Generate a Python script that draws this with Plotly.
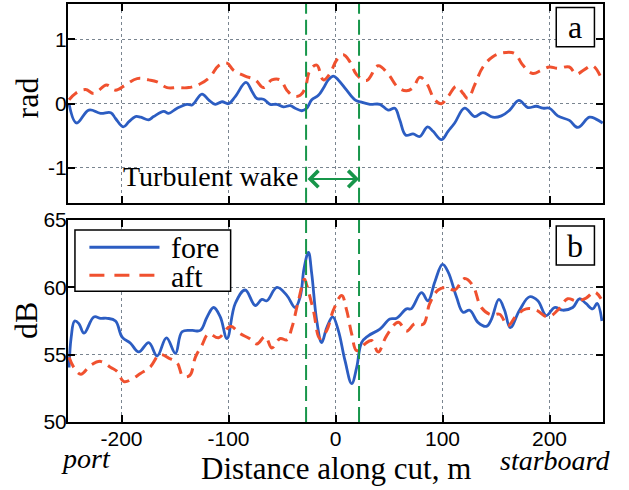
import plotly.graph_objects as go

# ---------------- data ----------------
fore_phase_x = [-249, -242, -230.5, -219.6, -210, -205.6, -198.4, -193, -187, -182, -174.5, -170, -160.5, -156,
                -148, -138.7, -134, -124.8, -118.6, -112.4, -106, -100, -93.7, -83.7, -78, -73.5, -67.3, -61, -55,
                -48.7, -42.4, -37.7, -31.5, -26.9, -22.2, -16, -11.4, -6.7, -2, 2.6, 10.4, 18.2, 22.8, 32.2, 41.5,
                49.2, 55.5, 60, 65.7, 72.5, 78.8, 86, 91.2, 99, 105.2, 111.4, 120.7, 130, 137.8, 147, 155, 162.8,
                171.4, 179.8, 187.6, 193.8, 200, 207.7, 218.6, 226.4, 237.3, 243.5, 249.7]
fore_phase_y = [0.0, -0.30, -0.10, -0.15, -0.14, -0.23, -0.36, -0.28, -0.20, -0.21, -0.25, -0.20, -0.12, -0.15,
                -0.07, -0.01, -0.02, 0.15, 0.06, -0.01, 0.03, 0.0, 0.11, 0.33, 0.19, 0.08, 0.07, -0.01, -0.01,
                -0.05, -0.03, -0.07, -0.11, -0.07, 0.06, 0.13, 0.24, 0.37, 0.43, 0.37, 0.21, 0.06, 0.03, -0.01, -0.01,
                -0.10, -0.07, -0.25, -0.49, -0.47, -0.51, -0.36, -0.43, -0.56, -0.43, -0.30, -0.07, -0.20, -0.14,
                -0.21, -0.19, -0.10, 0.05, -0.06, -0.04, -0.07, -0.07, -0.19, -0.26, -0.37, -0.21, -0.24, -0.30]

aft_phase_x = [-249, -243, -233.6, -225.8, -214, -205.6, -196.3, -185.4, -174.5, -166.7, -157.4, -148, -137.2,
               -126.3, -117, -109.3, -101.4, -95.3, -84.4, -75, -67.3, -59.5, -51.7, -45.5, -39.3, -33, -28.4,
               -23.8, -17.5, -11.4, -5.1, 1.1, 7.3, 13.5, 19.8, 29.1, 39.9, 49.2, 58.6, 66.4, 72.5, 78.8, 85, 92.8,
               99, 105.2, 113, 119.2, 123.8, 130, 137.8, 147, 156.4, 167.4, 175, 184.4, 192.3, 200, 207.7, 218.6,
               224.9, 232.6, 240.2, 248]
aft_phase_y = [0.06, 0.16, 0.22, 0.16, 0.29, 0.21, 0.29, 0.39, 0.37, 0.34, 0.25, 0.25, 0.25,
               0.31, 0.42, 0.59, 0.63, 0.52, 0.43, 0.37, 0.25, 0.37, 0.37, 0.21, 0.12, 0.13, 0.24,
               0.52, 0.60, 0.37, 0.47, 0.68, 0.76, 0.65, 0.45, 0.36, 0.59, 0.46, 0.25, 0.20, 0.25, 0.41, 0.32, 0.06,
               0.0, 0.11, 0.27, 0.16, 0.08, 0.29, 0.57, 0.73, 0.79, 0.78, 0.60, 0.47, 0.52, 0.57, 0.55, 0.57,
               0.46, 0.53, 0.59, 0.41]

fore_db_x = [-249, -247, -243.8, -239.8, -235, -225.8, -219.6, -213.3, -205.6, -199.4, -191.6, -183.9, -174.5,
             -166.7, -158, -149.6, -143.4, -134, -126.3, -120, -113.9, -107.7, -101.4, -93.7, -84.4, -75, -68.8,
             -64.1, -54.8, -45.5, -37.8, -33, -29.4, -25.3, -22.2, -17.5, -12.9, -8.2, -2.6, 2.6, 8.9, 15.1, 19.8,
             24.4, 30.6, 41.5, 50.8, 57, 66.4, 70.6, 80.4, 86.5, 92.8, 100, 105.2, 113, 119.2, 125.4, 133.1, 141,
             145.6, 152.7, 158, 163.3, 172, 181.4, 189.1, 197, 204.7, 212.4, 221.7, 228, 234, 240.4, 244.5, 249]
fore_db_y = [54.05, 56.3, 57.5, 57.3, 56.6, 57.8, 57.7, 57.7, 57.5, 56.3, 55.85, 55.2, 55.9,
             54.9, 56.25, 55.1, 56.7, 56.8, 56.8, 57.8, 58.5, 57.8, 56.2, 58.8, 59.8, 58.65, 59.1,
             59.0, 60.0, 59.4, 58.5, 59.3, 61.4, 62.6, 61.0, 57.5, 55.9, 57.0, 57.8, 56.8, 54.55, 52.85, 54.05,
             55.9, 56.4, 56.9, 57.65, 57.7, 58.4, 58.4, 59.6, 59.0, 60.4, 61.7, 61.15, 59.3, 58.15, 58.3, 57.4, 57.1,
             57.6, 59.1, 58.3, 57.0, 58.3, 59.3, 59.0, 57.9, 58.5, 58.3, 58.5, 59.15, 58.8, 58.4, 58.8, 57.5]

aft_db_x = [-249, -244.5, -238, -229, -219.6, -210, -204, -197.8, -190, -182.3, -173, -164.3, -155.9, -148,
            -142.5, -136.3, -131, -124.8, -118.6, -109.3, -98.4, -89, -80.4, -73.5, -65.7, -59.5, -51.7, -45.5,
            -40.8, -34.7, -29, -26.9, -20.7, -14.5, -8.2, -2, 5.8, 10.4, 15.1, 19.8, 27.5, 33.8, 39.9, 47.7, 58.6,
            66.4, 74.1, 81.9, 88.1, 95.9, 103.7, 111.4, 120.7, 128.5, 136.3, 145.6, 153.4, 161.1, 169, 178.3,
            187.6, 198.4, 207.7, 217, 224.9, 234.2, 242, 248.2]
aft_db_y = [54.8, 54.05, 53.55, 54.2, 54.5, 54.05, 53.75, 53.0, 53.2, 53.6, 54.1, 55.0, 54.75, 54.4,
            53.4, 53.45, 54.8, 55.7, 56.55, 56.25, 57.1, 56.55, 56.2, 55.8, 56.35, 55.5, 56.2, 56.1,
            57.0, 59.0, 60.6, 60.15, 58.3, 56.2, 56.8, 58.3, 59.4, 58.3, 56.55, 55.3, 55.8, 56.05, 55.2, 56.4, 57.4,
            56.75, 57.3, 57.25, 58.8, 59.8, 60.0, 59.8, 60.65, 60.1, 58.5, 57.95, 58.0, 57.15, 57.9, 58.4,
            58.3, 57.8, 58.3, 59.15, 59.0, 59.2, 59.65, 59.15]

x_tick_vals = [-200, -100, 0, 100, 200]
x_tick_text = ["-200", "-100", "0", "100", "200"]
rad_tick_vals = [-1, 0, 1]
rad_tick_text = ["-1", "0", "1"]
db_tick_vals = [50, 55, 60, 65]
db_tick_text = ["50", "55", "60", "65"]
wake_edges = [-27.5, 22]
series_names = ["fore", "aft"]

# ---------------- style ----------------
BLUE = "#2C5DC2"
RED = "#F0512F"
GREEN = "#17964A"
SERIF = "Liberation Serif"
SANS = "Liberation Sans"

fig = go.Figure()
line_f = dict(color=BLUE, width=2.8, shape="spline", smoothing=1.1)
line_a = dict(color=RED, width=3, dash="11px,7px", shape="spline", smoothing=1.1)

fig.add_trace(go.Scatter(x=fore_phase_x, y=fore_phase_y, mode="lines", line=line_f,
                         xaxis="x", yaxis="y", showlegend=False, name=series_names[0]))
fig.add_trace(go.Scatter(x=aft_phase_x, y=aft_phase_y, mode="lines", line=line_a,
                         xaxis="x", yaxis="y", showlegend=False, name=series_names[1]))
fig.add_trace(go.Scatter(x=fore_db_x, y=fore_db_y, mode="lines", line=line_f,
                         xaxis="x2", yaxis="y2", showlegend=False, name=series_names[0]))
fig.add_trace(go.Scatter(x=aft_db_x, y=aft_db_y, mode="lines", line=line_a,
                         xaxis="x2", yaxis="y2", showlegend=False, name=series_names[1]))

axis_common = dict(showline=True, linecolor="black", linewidth=2, mirror="ticks",
                   ticks="inside", ticklen=7, tickwidth=2, tickcolor="black",
                   showgrid=True, gridcolor="#7a8590", gridwidth=1, griddash="dot",
                   zeroline=False, automargin=False,
                   tickfont=dict(family=SANS, size=21, color="black"))

fig.update_layout(
    width=629, height=490,
    margin=dict(l=68, r=26, t=4, b=68, autoexpand=False),
    paper_bgcolor="white", plot_bgcolor="white",
    showlegend=False,
    xaxis=dict(axis_common, range=[-250, 250], domain=[0, 1], anchor="y",
               tickvals=x_tick_vals, ticktext=x_tick_text, showticklabels=False),
    yaxis=dict(axis_common, range=[-1.54, 1.55], domain=[0.5246, 1], anchor="x",
               tickvals=rad_tick_vals, ticktext=rad_tick_text, ticklabelstandoff=-5),
    xaxis2=dict(axis_common, range=[-250, 250], domain=[0, 1], anchor="y2",
                tickvals=x_tick_vals, ticktext=x_tick_text, ticklabelstandoff=-3),
    yaxis2=dict(axis_common, range=[50, 65], domain=[0, 0.4833], anchor="x2",
                tickvals=db_tick_vals, ticktext=db_tick_text, ticklabelstandoff=-5),
)

shapes = []
for xe in wake_edges:
    for yr in ["y domain", "y2 domain"]:
        shapes.append(dict(type="line", xref="x" if yr == "y domain" else "x2", yref=yr,
                           x0=xe, x1=xe, y0=0, y1=1,
                           line=dict(color=GREEN, width=2, dash="15px,6px")))
# panel label boxes
shapes.append(dict(type="rect", xref="x domain", yref="y domain", x0=0.9126, x1=0.984, y0=0.785, y1=0.983,
                   line=dict(color="black", width=1.5), fillcolor="white"))
shapes.append(dict(type="rect", xref="x2 domain", yref="y2 domain", x0=0.9126, x1=0.984, y0=0.777, y1=0.970,
                   line=dict(color="black", width=1.5), fillcolor="white"))
# legend box and samples
shapes.append(dict(type="rect", xref="x2 domain", yref="y2 domain", x0=0.013, x1=0.304, y0=0.647, y1=0.95,
                   line=dict(color="black", width=1.5), fillcolor="white"))
shapes.append(dict(type="line", xref="x2 domain", yref="y2 domain", x0=0.040, x1=0.171, y0=0.865, y1=0.865,
                   line=dict(color=BLUE, width=3)))
shapes.append(dict(type="line", xref="x2 domain", yref="y2 domain", x0=0.040, x1=0.171, y0=0.727, y1=0.727,
                   line=dict(color=RED, width=3, dash="15px,10px")))
fig.update_layout(shapes=shapes)

ann = []
ann.append(dict(xref="x", yref="y", x=wake_edges[1], y=-1.17, ax=wake_edges[0], ay=-1.17,
                axref="x", ayref="y", text="", showarrow=True, arrowhead=4, startarrowhead=4,
                arrowside="end+start", arrowsize=1.6, startarrowsize=1.6, arrowwidth=2, arrowcolor=GREEN,
                standoff=0, startstandoff=0))
ann.append(dict(xref="x", yref="y", x=-32.5, y=-1.13, text="Turbulent wake", showarrow=False,
                xanchor="right", yanchor="middle", font=dict(family=SERIF, size=28, color="black")))
ann.append(dict(xref="x domain", yref="y domain", x=0.948, y=0.884, text="a", showarrow=False,
                xanchor="center", yanchor="middle", font=dict(family=SERIF, size=32, color="black")))
ann.append(dict(xref="x2 domain", yref="y2 domain", x=0.948, y=0.873, text="b", showarrow=False,
                xanchor="center", yanchor="middle", font=dict(family=SERIF, size=32, color="black")))
ann.append(dict(xref="x2 domain", yref="y2 domain", x=0.188, y=0.865, text=series_names[0], showarrow=False,
                xanchor="left", yanchor="middle", font=dict(family=SERIF, size=30, color="black")))
ann.append(dict(xref="x2 domain", yref="y2 domain", x=0.188, y=0.722, text=series_names[1], showarrow=False,
                xanchor="left", yanchor="middle", font=dict(family=SERIF, size=30, color="black")))
ann.append(dict(xref="paper", yref="y domain", x=0, y=0.525, xshift=-41, text="rad", textangle=-90,
                showarrow=False, xanchor="center", yanchor="middle",
                font=dict(family=SERIF, size=32, color="black")))
ann.append(dict(xref="paper", yref="y2 domain", x=0, y=0.5, xshift=-42, text="dB", textangle=-90,
                showarrow=False, xanchor="center", yanchor="middle",
                font=dict(family=SERIF, size=32, color="black")))
ann.append(dict(xref="paper", yref="paper", x=0.5, y=0, yshift=-46, text="Distance along cut, m",
                showarrow=False, xanchor="center", yanchor="middle",
                font=dict(family=SERIF, size=31, color="black")))
ann.append(dict(xref="paper", yref="paper", x=0, y=0, xshift=18, yshift=-36, text="<i>port</i>",
                showarrow=False, xanchor="center", yanchor="middle",
                font=dict(family=SERIF, size=28, color="black")))
ann.append(dict(xref="paper", yref="paper", x=1, y=0, xshift=-48, yshift=-38, text="<i>starboard</i>",
                showarrow=False, xanchor="center", yanchor="middle",
                font=dict(family=SERIF, size=28, color="black")))
fig.update_layout(annotations=ann)

fig.write_html("out.html", config={"displayModeBar": False},
               post_script="document.body.style.margin='0px';")
